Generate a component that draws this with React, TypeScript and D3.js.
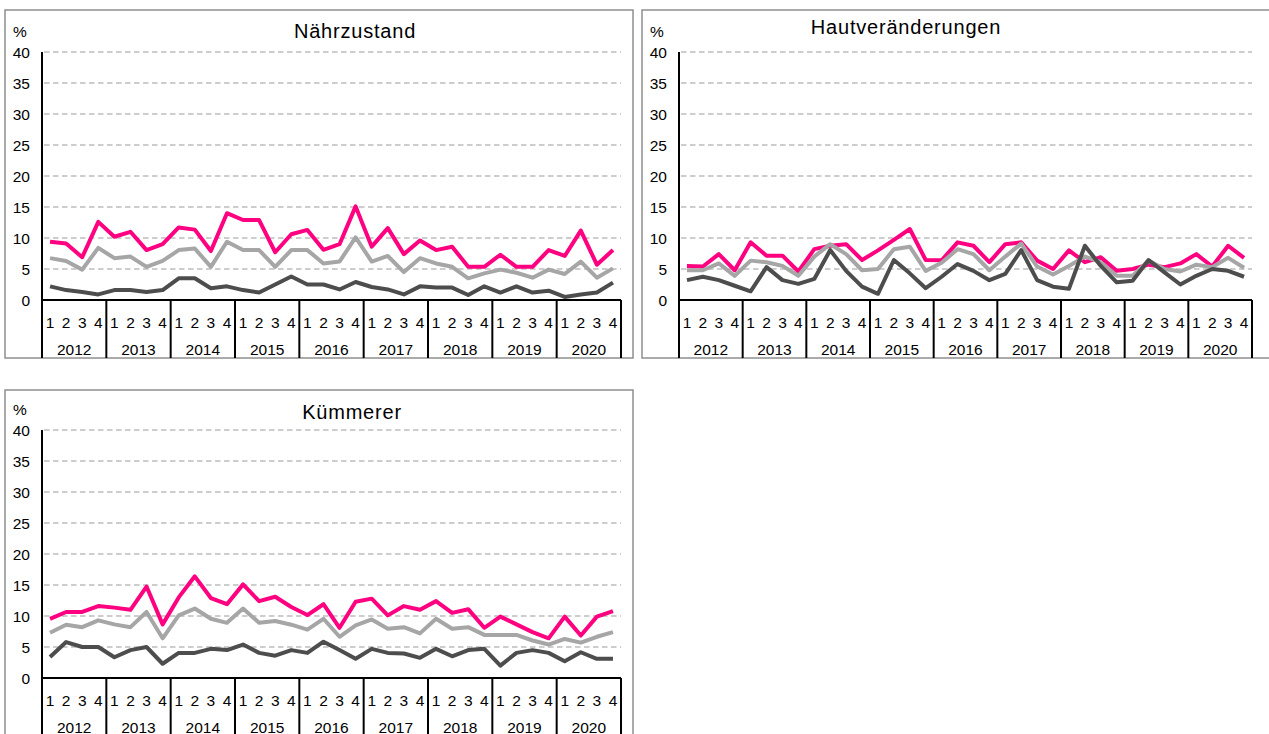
import * as d3 from "d3";

const years = ["2012", "2013", "2014", "2015", "2016", "2017", "2018", "2019", "2020"];
const quarters = ["1", "2", "3", "4"];
const yTicks = [0, 5, 10, 15, 20, 25, 30, 35, 40];

// Nährzustand
const naehrPink = [9.4, 9.1, 6.9, 12.6, 10.2, 11.0, 8.05, 9.0, 11.7, 11.35, 7.9, 14.0, 12.9, 12.9, 7.7, 10.6, 11.3, 8.1,
  9.0, 15.1, 8.6, 11.6, 7.4, 9.6, 8.05, 8.6, 5.35, 5.35, 7.3, 5.35, 5.35, 8.05, 7.1, 11.2, 5.7, 8.05];
const naehrLight = [6.75, 6.3, 4.9, 8.4, 6.75, 7.0, 5.35, 6.3, 8.05, 8.3, 5.35, 9.4, 8.05, 8.05, 5.35, 8.05, 8.05, 5.9,
  6.2, 10.1, 6.2, 7.1, 4.5, 6.75, 5.9, 5.35, 3.5, 4.3, 4.9, 4.4, 3.6, 4.9, 4.2, 6.2, 3.6, 5.1];
const naehrDark = [2.2, 1.6, 1.3, 0.9, 1.6, 1.6, 1.3, 1.6, 3.5, 3.5, 1.9, 2.2, 1.6, 1.2, 2.5, 3.8, 2.5, 2.5,
  1.7, 2.9, 2.1, 1.7, 0.9, 2.2, 2.0, 2.0, 0.8, 2.2, 1.2, 2.2, 1.2, 1.5, 0.5, 0.9, 1.2, 2.8];

// Hautveränderungen
const hautPink = [5.5, 5.4, 7.4, 4.8, 9.3, 7.15, 7.15, 4.6, 8.2, 8.75, 9.0, 6.45, 8.0, 9.7, 11.45, 6.45, 6.4,
  9.3, 8.75, 6.1, 9.0, 9.3, 6.35, 5.0, 8.0, 6.1, 6.9, 4.7, 5.0, 5.7, 5.3, 5.9, 7.4, 5.4, 8.75, 6.8];
const hautLight = [4.8, 4.8, 5.9, 3.9, 6.35, 6.1, 5.5, 3.9, 7.0, 9.0, 7.4, 4.8, 5.0, 8.2, 8.6, 4.7, 6.0,
  8.2, 7.4, 4.8, 7.0, 9.1, 5.4, 4.1, 5.5, 7.0, 6.1, 3.9, 3.9, 6.35, 5.0, 4.6, 5.7, 5.3, 6.8, 5.2];
const hautDark = [3.2, 3.75, 3.2, 2.3, 1.4, 5.3, 3.2, 2.6, 3.4, 8.05, 4.7, 2.15, 1.0, 6.45, 4.3, 1.9, 3.75,
  5.8, 4.7, 3.2, 4.2, 8.05, 3.2, 2.15, 1.8, 8.75, 5.5, 2.85, 3.1, 6.45, 4.45, 2.5, 3.9, 5.0, 4.7, 3.75];

// Kümmerer
const kuemPink = [9.55, 10.65, 10.65, 11.6, 11.35, 11.0, 14.75, 8.65, 13.0, 16.4, 12.9, 11.9, 15.1, 12.4, 13.1, 11.45, 10.15, 11.9, 8.1,
  12.3, 12.8, 10.1, 11.6, 11.0, 12.4, 10.5, 11.1, 8.1, 9.9, 8.65, 7.4, 6.4, 9.9, 6.85, 9.9, 10.8];
const kuemLight = [7.3, 8.6, 8.2, 9.3, 8.65, 8.2, 10.65, 6.4, 10.1, 11.2, 9.55, 8.9, 11.2, 8.9, 9.2, 8.6, 7.8, 9.55, 6.65,
  8.5, 9.45, 7.95, 8.2, 7.2, 9.55, 7.95, 8.2, 6.95, 6.95, 6.95, 6.05, 5.4, 6.3, 5.7, 6.65, 7.4];
const kuemDark = [3.4, 5.8, 5.0, 5.0, 3.35, 4.5, 5.0, 2.3, 4.05, 4.05, 4.7, 4.5, 5.4, 4.05, 3.6, 4.5, 4.05, 5.85, 4.5,
  3.1, 4.7, 4.05, 3.95, 3.25, 4.7, 3.5, 4.5, 4.7, 2.0, 4.05, 4.5, 4.05, 2.7, 4.15, 3.1, 3.1];

const categories = years.flatMap((yr) => quarters.map((q) => `${yr}-${q}`));

const PINK = "#FF0080";
const LIGHT = "#A6A6A6";
const DARK = "#4D4D4D";
const FONT = "'Liberation Sans', Arial, sans-serif";
const LABEL = 15.5;

type Box = { x: number; y: number; w: number; h: number };
type Plot = { left: number; right: number; top: number; bottom: number; floor: number };

function Panel({ title, titleX, titleY, pink, light, dark, frame, plot }: {
  title: string; titleX: number; titleY: number;
  pink: number[]; light: number[]; dark: number[];
  frame: Box; plot: Plot;
}) {
  const x = d3.scaleBand().domain(categories).range([plot.left, plot.right]);
  const yearX = d3.scaleBand().domain(years).range([plot.left, plot.right]);
  const y = d3.scaleLinear().domain([0, 40]).range([plot.bottom, plot.top]);

  const line = d3.line<number>()
    .x((_, i) => (x(categories[i]) ?? 0) + x.bandwidth() / 2)
    .y((d) => y(d));

  return (
    <g>
      <rect x={frame.x} y={frame.y} width={frame.w} height={frame.h} fill="#fff" stroke="#8f8f8f" strokeWidth={1.5} />
      <text x={titleX} y={titleY} textAnchor="middle" fontSize={20} letterSpacing={0.8} fontFamily={FONT} fill="#000">{title}</text>
      <text x={plot.left - 29} y={plot.top - 21} dominantBaseline="central" fontSize={LABEL} fontFamily={FONT}>%</text>

      {yTicks.filter((t) => t > 0).map((t) => (
        <line key={t} x1={plot.left + 2} x2={plot.right} y1={y(t)} y2={y(t)}
          stroke="#BDBDBD" strokeWidth={1.5} strokeDasharray="5.5 3.5" />
      ))}
      {yTicks.map((t) => (
        <text key={t} x={plot.left - 12} y={y(t)} textAnchor="end" dominantBaseline="central"
          fontSize={LABEL} fontFamily={FONT} fill="#000">{t}</text>
      ))}

      {/* category axis */}
      <line x1={plot.left} x2={plot.left} y1={plot.top} y2={plot.floor} stroke="#000" strokeWidth={2} />
      <line x1={plot.left} x2={plot.right} y1={plot.bottom} y2={plot.bottom} stroke="#000" strokeWidth={2} />
      {years.map((yr) => (
        <line key={yr} x1={(yearX(yr) ?? 0) + yearX.bandwidth()} x2={(yearX(yr) ?? 0) + yearX.bandwidth()}
          y1={plot.bottom} y2={plot.floor} stroke="#000" strokeWidth={2} />
      ))}
      {categories.map((c) => (
        <text key={c} x={(x(c) ?? 0) + x.bandwidth() / 2} y={plot.bottom + 22} textAnchor="middle"
          dominantBaseline="central" fontSize={LABEL} fontFamily={FONT}>{c.split("-")[1]}</text>
      ))}
      {years.map((yr) => (
        <text key={yr} x={(yearX(yr) ?? 0) + yearX.bandwidth() / 2} y={plot.bottom + 49} textAnchor="middle"
          dominantBaseline="central" fontSize={LABEL} fontFamily={FONT}>{yr}</text>
      ))}

      <path d={line(pink) ?? ""} fill="none" stroke={PINK} strokeWidth={4} strokeLinejoin="round" />
      <path d={line(light) ?? ""} fill="none" stroke={LIGHT} strokeWidth={4} strokeLinejoin="round" />
      <path d={line(dark) ?? ""} fill="none" stroke={DARK} strokeWidth={4} strokeLinejoin="round" />
    </g>
  );
}

export default function App() {
  return (
    <svg width={1269} height={734} style={{ position: "fixed", left: 0, top: 0, background: "#fff" }}>
      <Panel title="Nährzustand" titleX={355} titleY={38}
        pink={naehrPink} light={naehrLight} dark={naehrDark}
        frame={{ x: 5, y: 10, w: 628, h: 348 }}
        plot={{ left: 42, right: 621, top: 52, bottom: 300, floor: 358 }} />
      <Panel title="Hautveränderungen" titleX={906} titleY={34}
        pink={hautPink} light={hautLight} dark={hautDark}
        frame={{ x: 642, y: 10, w: 640, h: 348 }}
        plot={{ left: 679, right: 1252, top: 52, bottom: 300, floor: 358 }} />
      <Panel title="Kümmerer" titleX={352} titleY={419}
        pink={kuemPink} light={kuemLight} dark={kuemDark}
        frame={{ x: 5, y: 390, w: 628, h: 400 }}
        plot={{ left: 42, right: 621, top: 430, bottom: 678, floor: 740 }} />
    </svg>
  );
}
